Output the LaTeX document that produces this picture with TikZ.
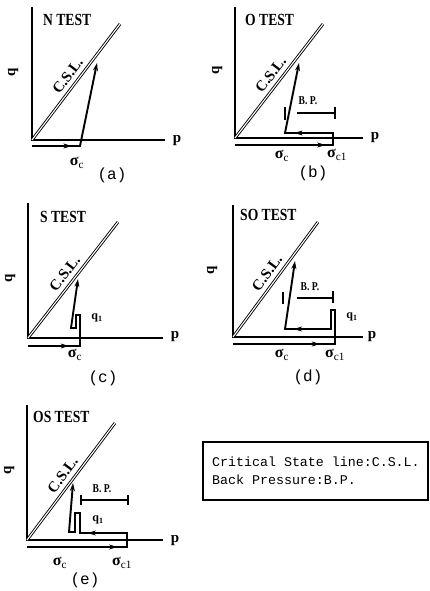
\documentclass[tikz,border=0pt]{standalone}
\usepackage{fontspec}
\setmainfont{Liberation Serif}
\newfontfamily\monof{Liberation Mono}
\usetikzlibrary{arrows.meta,decorations.markings}
\newcommand{\narrowtxt}[1]{\scalebox{0.8}[1]{#1}}
\newcommand{\sigc}{{\bfseries σ}\textsubscript{c}}
\newcommand{\sigcone}{{\bfseries σ}\textsubscript{c1}}
\tikzset{
  axisln/.style={line width=1.8pt},
  cslln/.style={double, double distance=1.1pt, line width=0.9pt},
  pathln/.style={line width=1.9pt, line join=miter},
  endarrow/.style={pathln, -{Stealth[length=8pt,width=5pt]}},
  marrow/.style={postaction={decorate}, decoration={markings, mark=at position #1 with {\arrow{Stealth[length=8pt,width=5pt]}}}},
  tick/.style={line width=1.1pt},
  testlbl/.style={anchor=west, inner sep=0pt, font=\fontsize{17}{17}\selectfont\bfseries},
  axlbl/.style={inner sep=0pt, font=\fontsize{15}{15}\selectfont\bfseries},
  csllbl/.style={inner sep=0pt, sloped, above=5pt, font=\fontsize{15}{15}\selectfont\bfseries},
  bplbl/.style={inner sep=0pt, font=\fontsize{12}{12}\selectfont\bfseries},
  sigmalbl/.style={inner sep=0pt, font=\fontsize{16}{16}\selectfont},
  caplbl/.style={inner sep=0pt, font=\fontsize{16}{16}\selectfont\monof},
  legendtxt/.style={anchor=west, inner sep=0pt, font=\fontsize{13.3}{13.3}\selectfont\monof},
}
\begin{document}
\begin{tikzpicture}[x=1pt, y=-1pt]
\useasboundingbox (0,0) rectangle (429,591);
%%%%%%%%%%%%%%%% (a) N TEST
\coordinate (aO) at (32,140); \coordinate (aQ) at (32,7);
\coordinate (aP) at (165,140); \coordinate (aC) at (120,24);
\coordinate (aB0) at (32,146); \coordinate (aB1) at (80,146); \coordinate (aT) at (97,63);
\draw[axisln] (aQ) -- (aO) -- (aP);
\draw[cslln] (aO) -- (aC) node[csllbl, pos=0.5] {C.S.L.};
\node[testlbl] (aTest) at (43,20) {\narrowtxt{N TEST}};
\node[axlbl] (ap) at (177,141) {p};
\node[axlbl, rotate=90] (aq) at (13,72) {q};
\draw[endarrow] (aB0) -- (aB1) -- (aT);
\path[marrow=0.82] (aB0) -- (aB1);
\node[sigmalbl] (asig) at (77,163) {\sigc};
\node[caplbl] (acap) at (112,175) {(a)};
%%%%%%%%%%%%%%%% (b) O TEST
\coordinate (bO) at (235,138); \coordinate (bQ) at (235,7);
\coordinate (bP) at (363,138); \coordinate (bC) at (323,24);
\coordinate (bB0) at (235,145); \coordinate (bB1) at (333,145);
\coordinate (bB2) at (333,133); \coordinate (bB3) at (285,133); \coordinate (bT) at (299,63);
\draw[axisln] (bQ) -- (bO) -- (bP);
\draw[cslln] (bO) -- (bC) node[csllbl, pos=0.5] {C.S.L.};
\node[testlbl] (bTest) at (245,20) {\narrowtxt{O TEST}};
\node[axlbl] (bp) at (375,138) {p};
\node[axlbl, rotate=90] (bq) at (217,70) {q};
\draw[endarrow] (bB0) -- (bB1) -- (bB2) -- (bB3) -- (bT);
\path[marrow=0.92] (bB0) -- (bB1);
\path[marrow=0.8] (bB2) -- (bB3);
\coordinate (bL1) at (285,107); \coordinate (bL2) at (285,120);
\coordinate (bH1) at (297,113); \coordinate (bH2) at (335,113);
\coordinate (bR1) at (335,107); \coordinate (bR2) at (335,119);
\draw[tick] (bL1) -- (bL2);
\draw[tick] (bH1) -- (bH2);
\draw[tick] (bR1) -- (bR2);
\node[bplbl] (bbp) at (308,101) {\narrowtxt{B. P.}};
\node[sigmalbl] (bsig) at (282,156) {\sigc};
\node[sigmalbl] (bsig1) at (337,155) {\sigcone};
\node[caplbl] (bcap) at (313,173) {(b)};
%%%%%%%%%%%%%%%% (c) S TEST
\coordinate (cO) at (28,338); \coordinate (cQ) at (28,203);
\coordinate (cP) at (163,338); \coordinate (cC) at (118,222);
\coordinate (cB0) at (28,346); \coordinate (cB1) at (80,346);
\coordinate (cB2) at (80,315); \coordinate (cB3) at (76,315);
\coordinate (cB4) at (76,328); \coordinate (cB5) at (71,328); \coordinate (cT) at (78,279);
\draw[axisln] (cQ) -- (cO) -- (cP);
\draw[cslln] (cO) -- (cC) node[csllbl, pos=0.5] {C.S.L.};
\node[testlbl] (cTest) at (40,217) {\narrowtxt{S TEST}};
\node[axlbl] (cp) at (175,337) {p};
\node[axlbl, rotate=90] (cq) at (10,278) {q};
\draw[endarrow] (cB0) -- (cB1) -- (cB2) -- (cB3) -- (cB4) -- (cB5) -- (cT);
\path[marrow=0.78] (cB0) -- (cB1);
\node[bplbl] (cq1) at (97,318) {q\textsubscript{1}};
\node[sigmalbl] (csig) at (75,355) {\sigc};
\node[caplbl] (ccap) at (103,378) {(c)};
%%%%%%%%%%%%%%%% (d) SO TEST
\coordinate (dO) at (233,337); \coordinate (dQ) at (233,205);
\coordinate (dP) at (363,337); \coordinate (dC) at (318,222);
\coordinate (dB0) at (233,344); \coordinate (dB1) at (335,344);
\coordinate (dB2) at (335,310); \coordinate (dB3) at (331,310);
\coordinate (dB4) at (331,329); \coordinate (dB5) at (285,329); \coordinate (dT) at (295,261);
\draw[axisln] (dQ) -- (dO) -- (dP);
\draw[cslln] (dO) -- (dC) node[csllbl, pos=0.5] {C.S.L.};
\node[testlbl] (dTest) at (240,215) {\narrowtxt{SO TEST}};
\node[axlbl] (dp) at (372,337) {p};
\node[axlbl, rotate=90] (dq) at (212,270) {q};
\draw[endarrow] (dB0) -- (dB1) -- (dB2) -- (dB3) -- (dB4) -- (dB5) -- (dT);
\path[marrow=0.85] (dB0) -- (dB1);
\path[marrow=0.8] (dB4) -- (dB5);
\coordinate (dL1) at (283,292); \coordinate (dL2) at (283,304);
\coordinate (dH1) at (297,298); \coordinate (dH2) at (333,298);
\coordinate (dR1) at (333,291); \coordinate (dR2) at (333,303);
\draw[tick] (dL1) -- (dL2);
\draw[tick] (dH1) -- (dH2);
\draw[tick] (dR1) -- (dR2);
\node[bplbl] (dbp) at (310,287) {\narrowtxt{B. P.}};
\node[bplbl] (dq1) at (352,317) {q\textsubscript{1}};
\node[sigmalbl] (dsig) at (282,355) {\sigc};
\node[sigmalbl] (dsig1) at (335,355) {\sigcone};
\node[caplbl] (dcap) at (308,377) {(d)};
%%%%%%%%%%%%%%%% (e) OS TEST
\coordinate (eO) at (27,540); \coordinate (eQ) at (27,405);
\coordinate (eP) at (163,540); \coordinate (eC) at (115,423);
\coordinate (eB0) at (27,547); \coordinate (eB1) at (127,547);
\coordinate (eB2) at (127,533); \coordinate (eB3) at (80,533);
\coordinate (eB4) at (80,513); \coordinate (eB5) at (75,513);
\coordinate (eB6) at (75,532); \coordinate (eB7) at (69,532); \coordinate (eT) at (73,483);
\draw[axisln] (eQ) -- (eO) -- (eP);
\draw[cslln] (eO) -- (eC) node[csllbl, pos=0.5] {C.S.L.};
\node[testlbl] (eTest) at (33,417) {\narrowtxt{OS TEST}};
\node[axlbl] (ep) at (175,541) {p};
\node[axlbl, rotate=90] (eq) at (9,470) {q};
\draw[endarrow] (eB0) -- (eB1) -- (eB2) -- (eB3) -- (eB4) -- (eB5) -- (eB6) -- (eB7) -- (eT);
\path[marrow=0.9] (eB0) -- (eB1);
\path[marrow=0.83] (eB2) -- (eB3);
\coordinate (eL1) at (81,495); \coordinate (eL2) at (81,505);
\coordinate (eH1) at (81,500); \coordinate (eH2) at (128,500);
\coordinate (eR1) at (128,495); \coordinate (eR2) at (128,505);
\draw[tick] (eL1) -- (eL2);
\draw[tick] (eH1) -- (eH2);
\draw[tick] (eR1) -- (eR2);
\node[bplbl] (ebp) at (102,489) {\narrowtxt{B. P.}};
\node[bplbl] (eq1) at (98,520) {q\textsubscript{1}};
\node[sigmalbl] (esig) at (60,563) {\sigc};
\node[sigmalbl] (esig1) at (122,563) {\sigcone};
\node[caplbl] (ecap) at (85,580) {(e)};
%%%%%%%%%%%%%%%% legend
\draw[line width=1.1pt] (203,442) rectangle (428,500);
\node[legendtxt] (leg1) at (212,462) {Critical State line:C.S.L.};
\node[legendtxt] (leg2) at (212,480) {Back Pressure:B.P.};
\end{tikzpicture}
\end{document}
